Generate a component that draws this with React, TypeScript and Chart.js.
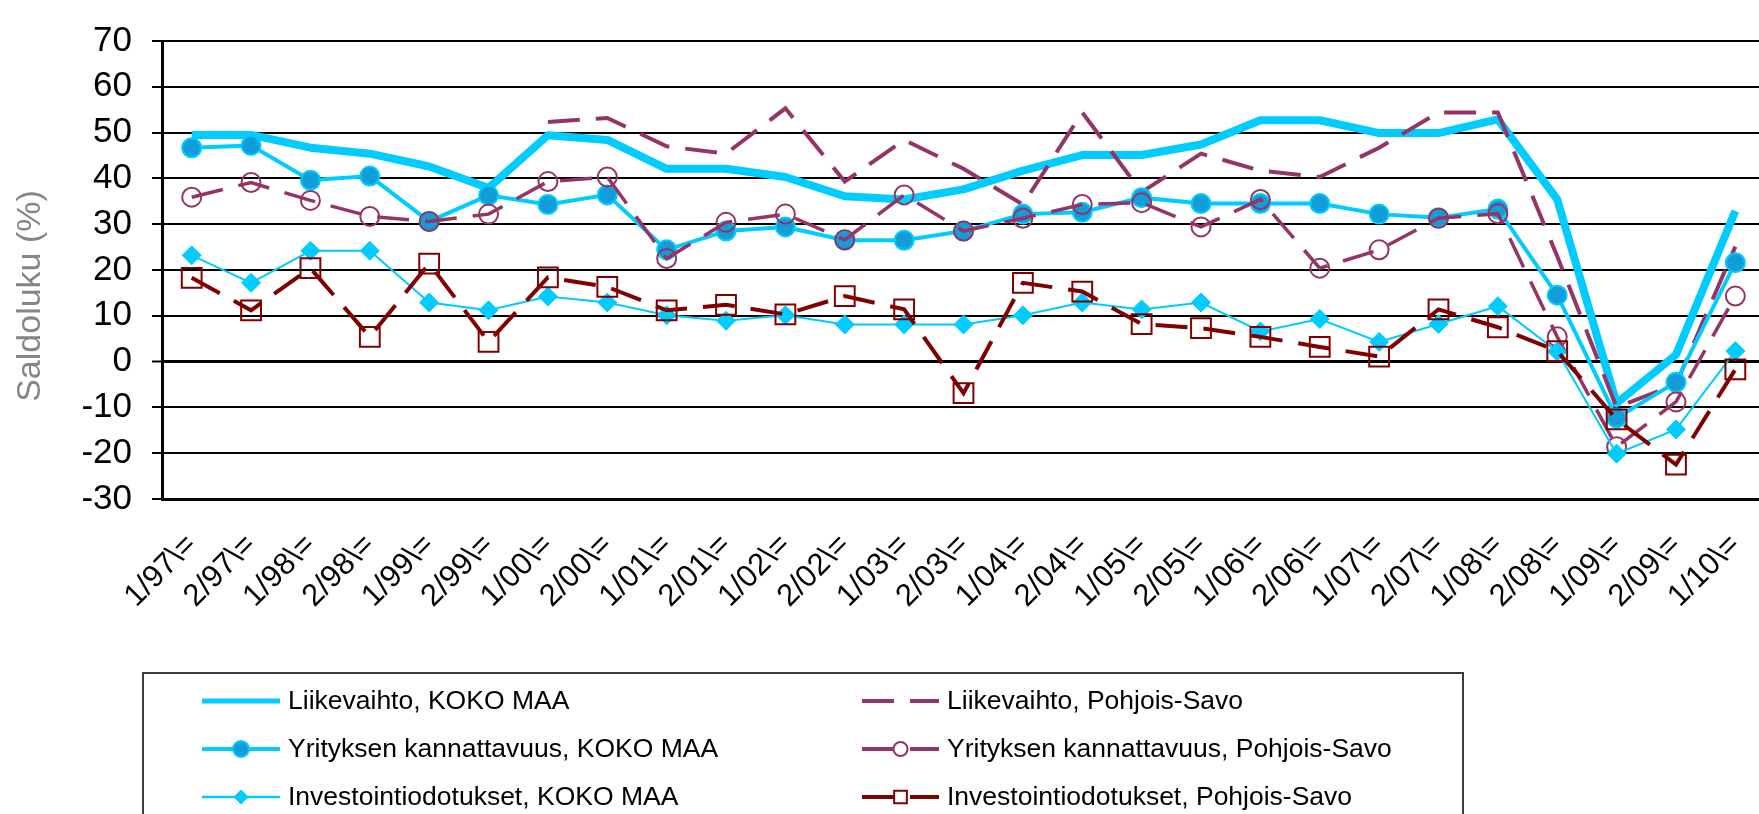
import React, { useEffect, useRef } from "react";
import { Chart, registerables } from "chart.js";

Chart.register(...registerables);

const categories = [
  "1/97\\=", "2/97\\=", "1/98\\=", "2/98\\=", "1/99\\=", "2/99\\=", "1/00\\=", "2/00\\=", "1/01\\=",
  "2/01\\=", "1/02\\=", "2/02\\=", "1/03\\=", "2/03\\=", "1/04\\=", "2/04\\=", "1/05\\=", "2/05\\=",
  "1/06\\=", "2/06\\=", "1/07\\=", "2/07\\=", "1/08\\=", "2/08\\=", "1/09\\=", "2/09\\=", "1/10\\=",
];

const liikevaihtoKoko = [49.5, 49.5, 46.7, 45.4, 42.6, 37.9, 49.4, 48.4, 42.1, 42.1, 40.3, 36.1, 35.4, 37.6, 41.7, 45.1, 45.1, 47.4, 52.7, 52.7, 49.9, 49.9, 52.9, 35.4, -9.1, 1.5, 32.9];
const liikevaihtoPS = [null, null, null, null, null, null, 52.3, 53.2, 47.0, 45.4, 55.3, 39.3, 48.4, 42.1, 34.3, 54.4, 37.0, 45.4, 41.7, 40.3, 46.7, 54.4, 54.4, 23.0, -10.0, -5.0, 25.1];
const kannattavuusKoko = [46.7, 47.2, 39.6, 40.5, 30.6, 36.3, 34.3, 36.4, 24.4, 28.5, 29.4, 26.5, 26.5, 28.5, 32.2, 32.6, 35.8, 34.5, 34.5, 34.5, 32.2, 31.4, 33.3, 14.5, -12.3, -4.5, 21.6];
const kannattavuusPS = [35.9, 39.1, 35.2, 31.7, 30.6, 32.2, 39.3, 40.3, 22.5, 30.4, 32.2, 26.6, 36.4, 28.5, 31.3, 34.3, 34.7, 29.4, 35.4, 20.4, 24.4, 31.3, 32.3, 5.4, -18.6, -8.8, 14.3];
const investointiKoko = [23.2, 17.2, 24.2, 24.2, 12.9, 11.2, 14.2, 12.9, 10.1, 8.9, 10.1, 8.1, 8.1, 8.1, 10.1, 12.9, 11.4, 12.9, 6.6, 9.3, 4.3, 8.2, 12.1, 2.2, -20.1, -14.8, 2.3];
const investointiPS = [18.3, 11.2, 20.4, 5.4, 21.4, 4.3, 18.4, 16.3, 11.2, 12.4, 10.3, 14.3, 11.4, -6.9, 17.2, 15.3, 8.2, 7.3, 5.4, 3.2, 1.1, 11.4, 7.5, 2.3, -12.6, -22.5, -1.7];

const seriesLabels = [
  "Liikevaihto, KOKO MAA",
  "Liikevaihto, Pohjois-Savo",
  "Yrityksen kannattavuus, KOKO MAA",
  "Yrityksen kannattavuus, Pohjois-Savo",
  "Investointiodotukset, KOKO MAA",
  "Investointiodotukset, Pohjois-Savo",
];

const yMin = -30;
const yMax = 70;
const yStep = 10;
const yTitle = "Saldoluku (%)";

const FONT = "'Liberation Sans', Arial, sans-serif";
const CYAN = "#00CCFF";
const DARKBLUE = "#139DD8";
const PURPLE = "#953466";
const DARKRED = "#800000";

const CANVAS_W = 1790;
const CANVAS_H = 814;

const yTitlePlugin = {
  id: "yTitlePlugin",
  afterDraw(chart: any) {
    const ctx = chart.ctx;
    ctx.save();
    ctx.translate(31, 296);
    ctx.rotate(-Math.PI / 2);
    ctx.font = `34px ${FONT}`;
    ctx.fillStyle = "#858585";
    ctx.textAlign = "center";
    ctx.textBaseline = "middle";
    ctx.fillText(yTitle, 0, 0);
    ctx.restore();
  },
};

function drawMarker(ctx: CanvasRenderingContext2D, ds: any, x: number, y: number) {
  const style = ds.pointStyle;
  const r = ds.legendRadius;
  if (!r) return;
  ctx.save();
  ctx.setLineDash([]);
  ctx.beginPath();
  if (style === "circle") {
    ctx.arc(x, y, r, 0, Math.PI * 2);
  } else if (style === "rectRot") {
    ctx.moveTo(x - r, y);
    ctx.lineTo(x, y - r);
    ctx.lineTo(x + r, y);
    ctx.lineTo(x, y + r);
    ctx.closePath();
  } else if (style === "rect") {
    const s = r * Math.SQRT1_2;
    ctx.rect(x - s, y - s, 2 * s, 2 * s);
  }
  if (ds.pointBackgroundColor && ds.pointBackgroundColor !== "rgba(0,0,0,0)") {
    ctx.fillStyle = ds.pointBackgroundColor;
  } else {
    ctx.fillStyle = "#ffffff";
  }
  ctx.fill();
  ctx.lineWidth = ds.pointBorderWidth;
  ctx.strokeStyle = ds.pointBorderColor;
  ctx.stroke();
  ctx.restore();
}

const legendPlugin = {
  id: "boxLegend",
  afterDraw(chart: any) {
    const ctx = chart.ctx as CanvasRenderingContext2D;
    ctx.save();
    ctx.lineWidth = 2;
    ctx.strokeStyle = "#3a3a3a";
    ctx.strokeRect(143, 673, 1320, 200);
    const cols = [
      { x1: 202, x2: 280, tx: 288 },
      { x1: 862, x2: 939, tx: 947 },
    ];
    const rows = [701, 749, 797];
    const dsets = chart.data.datasets;
    dsets.forEach((ds: any, i: number) => {
      const col = cols[i % 2];
      const y = rows[Math.floor(i / 2)];
      ctx.save();
      ctx.beginPath();
      ctx.setLineDash(ds.borderDash || []);
      ctx.lineWidth = ds.legendLineWidth;
      ctx.strokeStyle = ds.borderColor;
      ctx.moveTo(col.x1, y);
      ctx.lineTo(col.x2, y);
      ctx.stroke();
      ctx.restore();
      drawMarker(ctx, ds, (col.x1 + col.x2) / 2, y);
      ctx.fillStyle = "#000";
      ctx.font = `26.5px ${FONT}`;
      ctx.textAlign = "left";
      ctx.textBaseline = "middle";
      ctx.fillText(ds.label, col.tx, y + 1);
    });
    ctx.restore();
  },
};

export default function App() {
  const ref = useRef<HTMLCanvasElement>(null);

  useEffect(() => {
    const canvas = ref.current;
    if (!canvas) return;
    const datasets: any[] = [
      {
        label: seriesLabels[0],
        data: liikevaihtoKoko,
        borderColor: CYAN,
        backgroundColor: CYAN,
        borderWidth: 8,
        pointRadius: 0,
        order: 5,
        legendLineWidth: 5,
        legendRadius: 0,
        borderJoinStyle: "round",
      },
      {
        label: seriesLabels[1],
        data: liikevaihtoPS,
        borderColor: PURPLE,
        backgroundColor: PURPLE,
        borderWidth: 4,
        borderDash: [32, 16],
        pointRadius: 0,
        order: 4,
        legendLineWidth: 4,
        legendRadius: 0,
      },
      {
        label: seriesLabels[2],
        data: kannattavuusKoko,
        borderColor: CYAN,
        backgroundColor: DARKBLUE,
        borderWidth: 4,
        pointStyle: "circle",
        pointRadius: 9.5,
        pointBackgroundColor: DARKBLUE,
        pointBorderColor: CYAN,
        pointBorderWidth: 2,
        order: 3,
        legendLineWidth: 4,
        legendRadius: 8,
      },
      {
        label: seriesLabels[3],
        data: kannattavuusPS,
        borderColor: PURPLE,
        backgroundColor: "rgba(0,0,0,0)",
        borderWidth: 3.5,
        borderDash: [32, 16],
        pointStyle: "circle",
        pointRadius: 9.5,
        pointBackgroundColor: "rgba(0,0,0,0)",
        pointBorderColor: PURPLE,
        pointBorderWidth: 2,
        order: 2,
        legendLineWidth: 4,
        legendRadius: 7,
      },
      {
        label: seriesLabels[4],
        data: investointiKoko,
        borderColor: CYAN,
        backgroundColor: CYAN,
        borderWidth: 2,
        pointStyle: "rectRot",
        pointRadius: 9.5,
        pointBackgroundColor: CYAN,
        pointBorderColor: CYAN,
        pointBorderWidth: 1,
        order: 1,
        legendLineWidth: 2.5,
        legendRadius: 7,
      },
      {
        label: seriesLabels[5],
        data: investointiPS,
        borderColor: DARKRED,
        backgroundColor: "rgba(0,0,0,0)",
        borderWidth: 4,
        borderDash: [32, 16],
        pointStyle: "rect",
        pointRadius: 14,
        pointBackgroundColor: "rgba(0,0,0,0)",
        pointBorderColor: DARKRED,
        pointBorderWidth: 2,
        order: 0,
        legendLineWidth: 4,
        legendRadius: 9,
      },
    ];

    const chart = new Chart(canvas, {
      type: "line",
      data: { labels: categories, datasets },
      options: {
        animation: false,
        responsive: false,
        maintainAspectRatio: false,
        devicePixelRatio: 1,
        events: [],
        spanGaps: false,
        elements: { line: { tension: 0 } },
        layout: { padding: { left: 0, top: 27, right: CANVAS_W - 1771, bottom: 0 } },
        plugins: {
          legend: { display: false },
          tooltip: { enabled: false },
          title: { display: false },
        },
        scales: {
          x: {
            type: "category",
            offset: true,
            grid: { display: false, drawTicks: false },
            border: { display: true, color: "#000", width: 3 },
            ticks: {
              autoSkip: false,
              minRotation: 45,
              maxRotation: 45,
              padding: 28,
              color: "#000",
              font: { family: FONT, size: 31 },
            },
            afterFit: (s: any) => {
              s.height = CANVAS_H - 499;
            },
          },
          y: {
            min: yMin,
            max: yMax,
            ticks: {
              stepSize: yStep,
              autoSkip: false,
              color: "#000",
              padding: 20,
              font: { family: FONT, size: 35 },
              callback: (v: any) => String(v),
            },
            grid: {
              color: "#000",
              lineWidth: (c: any) => (c.tick && c.tick.value === 0 ? 3 : 2),
              tickLength: 10,
              tickColor: "#000",
              tickWidth: 2,
            },
            border: { display: true, color: "#000", width: 3 },
            afterFit: (s: any) => {
              s.width = 162;
            },
          },
        },
      } as any,
      plugins: [yTitlePlugin, legendPlugin],
    });
    return () => chart.destroy();
  }, []);

  return (
    <div
      style={{
        position: "fixed",
        left: 0,
        top: 0,
        width: 1759,
        height: 814,
        overflow: "hidden",
        background: "#ffffff",
      }}
    >
      <canvas
        ref={ref}
        width={CANVAS_W}
        height={CANVAS_H}
        style={{ display: "block", width: CANVAS_W, height: CANVAS_H }}
      />
    </div>
  );
}
